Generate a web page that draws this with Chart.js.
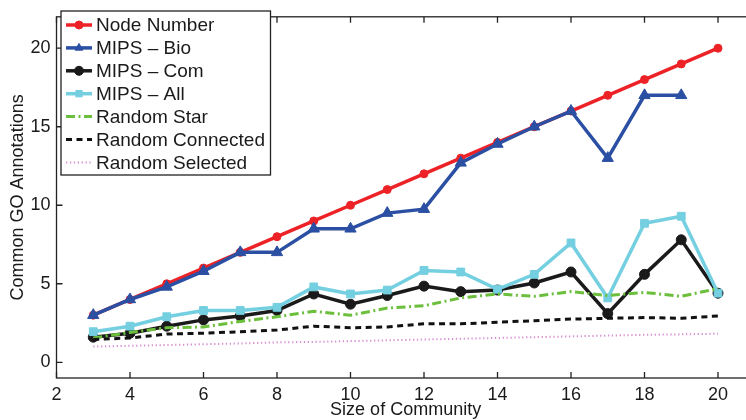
<!DOCTYPE html>
<html>
<head>
<meta charset="utf-8">
<script src="https://cdn.jsdelivr.net/npm/chart.js@4"></script>
<style>
  html, body { margin: 0; padding: 0; background: #fff; }
  body { width: 746px; height: 420px; overflow: hidden; }
  canvas { display: block; }
</style>
</head>
<body>
<canvas id="goChart" width="770" height="420"></canvas>
<script>
// community sizes on the x axis
const sizes = [3, 4, 5, 6, 7, 8, 9, 10, 11, 12, 13, 14, 15, 16, 17, 18, 19, 20];

const nodeNumber = [3, 4, 5, 6, 7, 8, 9, 10, 11, 12, 13, 14, 15, 16, 17, 18, 19, 20];
const mipsBio = [3, 4, 4.8, 5.8, 7, 7, 8.5, 8.5, 9.5, 9.75, 12.7, 13.9, 15, 16, 13, 17, 17, null];
const mipsCom = [1.6, 1.85, 2.3, 2.7, 2.95, 3.3, 4.35, 3.7, 4.25, 4.85, 4.5, 4.6, 5.05, 5.75, 3.1, 5.6, 7.8, 4.4];
const mipsAll = [1.95, 2.3, 2.9, 3.3, 3.3, 3.5, 4.8, 4.35, 4.6, 5.85, 5.75, 4.65, 5.6, 7.6, 4.1, 8.85, 9.3, 4.4];
const randomStar = [1.55, 1.9, 2.2, 2.25, 2.6, 2.9, 3.25, 3.0, 3.45, 3.6, 4.1, 4.35, 4.2, 4.5, 4.25, 4.45, 4.2, 4.7];
const randomConnected = [1.45, 1.55, 1.8, 1.85, 1.95, 2.05, 2.3, 2.2, 2.25, 2.45, 2.45, 2.55, 2.65, 2.75, 2.8, 2.85, 2.8, 2.95];
const randomSelected = [1.0, 1.05, 1.1, 1.15, 1.2, 1.27, 1.3, 1.35, 1.4, 1.45, 1.5, 1.55, 1.6, 1.65, 1.7, 1.75, 1.78, 1.82];

const xTicks = [2, 4, 6, 8, 10, 12, 14, 16, 18, 20];
const yTicks = [0, 5, 10, 15, 20];

const FONT = '"Liberation Sans", Arial, Helvetica, sans-serif';

function points(vals) {
    return sizes.map((s, i) => ({ x: s, y: vals[i] }));
}

function series(label, vals, color, extra) {
    return Object.assign({
        label: label,
        data: points(vals),
        borderColor: color,
        backgroundColor: color,
        pointBackgroundColor: color,
        pointBorderColor: color,
        borderWidth: 3.5,
        pointRadius: 0,
        pointBorderWidth: 1,
        tension: 0,
        spanGaps: false
    }, extra);
}

const datasets = [
    series('Node Number', nodeNumber, '#ec2227', { pointStyle: 'circle', pointRadius: 4 }),
    series('MIPS \u2013 Bio', mipsBio, '#2b4fa2', { pointStyle: 'triangle', pointRadius: 6.5 }),
    series('MIPS \u2013 Com', mipsCom, '#1a1a1a', { pointStyle: 'circle', pointRadius: 5 }),
    series('MIPS \u2013 All', mipsAll, '#74cfe0', { pointStyle: 'rect', pointRadius: 5.5 }),
    series('Random Star', randomStar, '#6cbf3c', { borderDash: [9, 3.5, 2, 3.5], borderWidth: 3 }),
    series('Random Connected', randomConnected, '#111111', { borderDash: [6, 4.5], borderWidth: 3 }),
    series('Random Selected', randomSelected, '#d98fd6', { borderDash: [1.3, 2.6], borderWidth: 2 })
];
// later series sit on top of earlier ones
datasets.forEach((d, i) => { d.order = datasets.length - i; });

// axes frame with inward ticks, plus the boxed legend in the upper left
const framePlugin = {
    id: 'framePlugin',
    afterDraw(chart) {
        const { ctx, chartArea: a, scales: { x, y } } = chart;
        ctx.save();
        ctx.strokeStyle = '#222';
        ctx.lineWidth = 1.3;
        ctx.setLineDash([]);
        ctx.strokeRect(a.left, a.top, a.right - a.left, a.bottom - a.top);
        ctx.beginPath();
        xTicks.forEach(v => {
            const px = x.getPixelForValue(v);
            ctx.moveTo(px, a.bottom); ctx.lineTo(px, a.bottom - 6);
            ctx.moveTo(px, a.top); ctx.lineTo(px, a.top + 6);
        });
        yTicks.forEach(v => {
            const py = y.getPixelForValue(v);
            ctx.moveTo(a.left, py); ctx.lineTo(a.left + 6, py);
        });
        ctx.stroke();

        // legend
        const lx = 61, ly = 11, lw = 209.5, lh = 164, row = 22.9;
        ctx.fillStyle = '#fff';
        ctx.fillRect(lx, ly, lw, lh);
        ctx.strokeStyle = '#222';
        ctx.lineWidth = 1.3;
        ctx.strokeRect(lx, ly, lw, lh);
        ctx.font = '19px ' + FONT;
        ctx.textBaseline = 'middle';
        chart.data.datasets.forEach((d, i) => {
            const cy = ly + 14 + i * row;
            ctx.strokeStyle = d.borderColor;
            ctx.lineWidth = d.borderWidth;
            ctx.setLineDash(d.borderDash || []);
            ctx.beginPath();
            ctx.moveTo(66, cy); ctx.lineTo(92, cy);
            ctx.stroke();
            ctx.setLineDash([]);
            if (d.pointRadius > 0) {
                ctx.fillStyle = d.pointBackgroundColor;
                ctx.strokeStyle = d.pointBorderColor;
                ctx.lineWidth = 1;
                Chart.helpers.drawPoint(ctx, {
                    pointStyle: d.pointStyle,
                    radius: Math.min(d.pointRadius, 4.5),
                    rotation: 0,
                    borderWidth: 1
                }, 79, cy);
            }
            ctx.fillStyle = '#1a1a1a';
            ctx.fillText(d.label, 96, cy + 1);
        });
        ctx.restore();
    }
};

new Chart(document.getElementById('goChart'), {
    type: 'line',
    data: { datasets: datasets },
    options: {
        responsive: false,
        animation: false,
        devicePixelRatio: 1,
        layout: { padding: { top: 7, left: 0, right: 15.25, bottom: 0 } },
        plugins: {
            legend: { display: false },
            tooltip: { enabled: false }
        },
        scales: {
            x: {
                type: 'linear',
                min: 2,
                max: 21,
                afterFit: s => { s.height = 42; },
                afterBuildTicks: s => { s.ticks = xTicks.map(v => ({ value: v })); },
                grid: { display: false, drawTicks: false, tickLength: 0 },
                border: { display: false },
                ticks: { color: '#1a1a1a', padding: 6, font: { family: FONT, size: 18 } },
                title: {
                    display: true,
                    text: 'Size of Community',
                    color: '#1a1a1a',
                    padding: { top: 0, bottom: -1 },
                    font: { family: FONT, size: 18 }
                }
            },
            y: {
                min: -1,
                max: 22,
                afterFit: s => { s.width = 56.5; },
                afterBuildTicks: s => { s.ticks = yTicks.map(v => ({ value: v })); },
                grid: { display: false, drawTicks: false, tickLength: 0 },
                border: { display: false },
                ticks: { color: '#1a1a1a', padding: 6, font: { family: FONT, size: 18 } },
                title: {
                    display: true,
                    text: 'Common GO Annotations',
                    color: '#1a1a1a',
                    padding: { top: 7, bottom: 0 },
                    font: { family: FONT, size: 18 }
                }
            }
        }
    },
    plugins: [framePlugin]
});
</script>
</body>
</html>
